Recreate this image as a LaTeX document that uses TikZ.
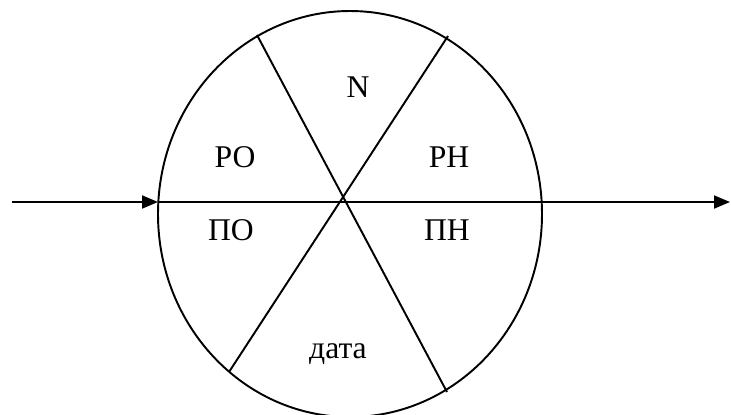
\documentclass[tikz,border=0pt]{standalone}
\usepackage{fontspec}
\setmainfont{Liberation Serif}
\usetikzlibrary{arrows.meta}
\tikzset{
  lbl/.style={inner sep=0pt, font=\fontsize{18}{20}\selectfont},
  ln/.style={line width=1.1pt},
  ->/.style={-{Triangle[length=3.2mm, width=2.6mm]}, line width=1.1pt}
}

\begin{document}
\begin{tikzpicture}[x=0.02cm,y=-0.02cm]
\useasboundingbox (0,0) rectangle (731,414);

% Circle (slightly oval)
\draw[ln] (350,214) ellipse[x radius=192, y radius=203];

% Points on the rim and centre
\coordinate (In)  at (12,202);
\coordinate (L)   at (158,202);
\coordinate (R)   at (542,202);
\coordinate (Out) at (730,202);
\coordinate (A1)  at (257,35);
\coordinate (A2)  at (447,392);
\coordinate (B1)  at (448,36);
\coordinate (B2)  at (229,372);

% Sector labels
\node[lbl] (N)    at (358,87)  {N};
\node[lbl] (RO)   at (235,157) {РО};
\node[lbl] (RN)   at (449,157) {РН};
\node[lbl] (PO)   at (231,230) {ПО};
\node[lbl] (PN)   at (447,230) {ПН};
\node[lbl] (Data) at (338,354) {дата};

% Diagonals
\draw[ln] (A1) -- (A2);
\draw[ln] (B1) -- (B2);

% Axis with arrows
\draw[->] (In) -- (L);
\draw[ln] (L) -- (R);
\draw[->] (R) -- (Out);

\end{tikzpicture}
\end{document}
